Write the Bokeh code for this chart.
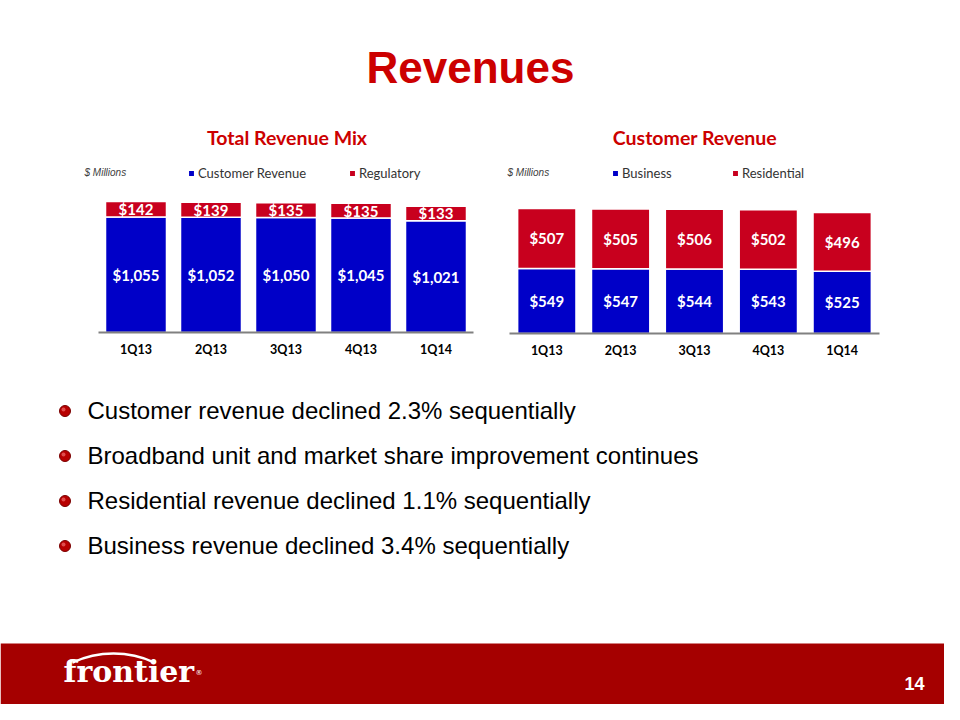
from bokeh.plotting import figure
from bokeh.models import Range1d, FactorRange, Label, Legend, LegendItem, ColumnDataSource
from bokeh.layouts import column, row
from bokeh.embed import file_html
from bokeh.resources import INLINE
from bokeh.core.properties import value

# ---------------- data ----------------
quarters = ["1Q13", "2Q13", "3Q13", "4Q13", "1Q14"]
customer_revenue = [1055, 1052, 1050, 1045, 1021]
regulatory_revenue = [142, 139, 135, 135, 133]
business_revenue = [549, 547, 544, 543, 525]
residential_revenue = [507, 505, 506, 502, 496]

bullet_points = [
    "Customer revenue declined 2.3% sequentially",
    "Broadband unit and market share improvement continues",
    "Residential revenue declined 1.1% sequentially",
    "Business revenue declined 3.4% sequentially",
]
slide_title = "Revenues"
page_number = "14"

# ---------------- style ----------------
BLUE = "#0000C8"
RED = "#C8001E"
TITLE_RED = "#CC0000"
FOOTER_RED = "#A50000"


def bare(p):
    p.grid.visible = False
    p.outline_line_color = None
    p.background_fill_color = "white"
    p.border_fill_color = "white"


# ---------------- header ----------------
hdr = figure(width=944, height=118, x_range=Range1d(0, 944), y_range=Range1d(0, 118),
             x_axis_location=None, y_axis_location=None, min_border=0,
             output_backend="svg", toolbar_location=None)
bare(hdr)
hdr.add_layout(Label(x=470, y=51, text=slide_title, text_align="center",
                     text_baseline="middle", text_font="Liberation Sans",
                     text_font_style="bold", text_font_size="44px", text_color=TITLE_RED))


def make_chart(lower, upper, names, title, title_x, legend_x, label_width,
               frame_w, frame_h, b_left, b_right, b_bottom, ymax, bar_w,
               pad, millions_x):
    src = ColumnDataSource(dict(
        q=quarters,
        lower=lower,
        upper=upper,
        lower_mid=[v / 2 for v in lower],
        upper_mid=[a + b / 2 for a, b in zip(lower, upper)],
        lower_txt=["${:,}".format(v) for v in lower],
        upper_txt=["${:,}".format(v) for v in upper],
    ))
    p = figure(x_range=FactorRange(*quarters, range_padding=pad, range_padding_units="percent"),
               y_range=Range1d(0, ymax),
               frame_width=frame_w, frame_height=frame_h,
               min_border_left=b_left, min_border_right=b_right,
               min_border_top=0, min_border_bottom=b_bottom,
               y_axis_location=None, output_backend="svg", toolbar_location=None)
    bare(p)
    rs = p.vbar_stack(["lower", "upper"], x="q", width=bar_w, source=src,
                      fill_color=[BLUE, RED], line_color="white", line_width=1.5)
    for ycol, tcol in (("lower_mid", "lower_txt"), ("upper_mid", "upper_txt")):
        p.text(x="q", y=ycol, text=tcol, source=src, text_align="center",
               text_baseline="middle", text_font=value("Lato"), text_font_style="bold",
               text_font_size="15px", text_color="white")
    ax = p.xaxis[0]
    ax.bounds = (0, len(quarters))
    ax.axis_line_color = "#808080"
    ax.axis_line_width = 2
    ax.major_tick_line_color = None
    ax.minor_tick_line_color = None
    ax.major_tick_out = 0
    ax.major_tick_in = 0
    ax.major_label_standoff = 9
    ax.major_label_text_font = "Lato"
    ax.major_label_text_font_style = "bold"
    ax.major_label_text_font_size = "12.5px"
    ax.major_label_text_color = "black"

    legend = Legend(items=[LegendItem(label=names[0], renderers=[rs[0]]),
                           LegendItem(label=names[1], renderers=[rs[1]])],
                    orientation="horizontal", location=(legend_x, frame_h - 63),
                    padding=0, margin=0, spacing=0, glyph_width=8, glyph_height=8,
                    label_standoff=3, label_width=label_width,
                    label_text_font="Lato", label_text_font_size="13px",
                    label_text_color="#333333", background_fill_alpha=0,
                    border_line_alpha=0)
    p.add_layout(legend)
    p.add_layout(Label(x=title_x, y=frame_h - 19, x_units="screen", y_units="screen",
                       text=title, text_align="center", text_baseline="middle",
                       text_font="Lato", text_font_style="bold", text_font_size="19.5px",
                       text_color=TITLE_RED))
    p.add_layout(Label(x=millions_x, y=frame_h - 54, x_units="screen", y_units="screen",
                       text="$ Millions", text_align="left", text_baseline="middle",
                       text_font="Liberation Sans", text_font_style="italic",
                       text_font_size="10px", text_color="#404040"))
    return p


# left chart: figure spans x 0..488, frame 83..488, axis 98..473
left = make_chart(customer_revenue, regulatory_revenue, ["Customer Revenue", "Regulatory"],
                  "Total Revenue Mix", 203.5, 104, 150,
                  405, 214, 83, 0, 38, 1955, 0.813, 0.08, 1)
# right chart: figure spans x 488..944, frame 502..886, axis 509..878
right = make_chart(business_revenue, residential_revenue, ["Business", "Residential"],
                   "Customer Revenue", 192.5, 109, 109,
                   384, 215, 14, 58, 37, 1816, 0.79, 0.04, 5)

# ---------------- bottom: bullets + footer ----------------
bot = figure(width=944, height=334, x_range=Range1d(0, 944), y_range=Range1d(0, 334),
             x_axis_location=None, y_axis_location=None, min_border=0,
             output_backend="svg", toolbar_location=None)
bare(bot)
bullet_y = [294, 249, 204, 159]
bot.scatter(x=[64.5] * 4, y=[y - 0.5 for y in bullet_y], size=11, fill_color="#B80000",
            line_color="#7A0000", line_width=1)
bot.scatter(x=[63] * 4, y=[y + 1 for y in bullet_y], size=4, fill_color="#E86060",
            line_color=None, fill_alpha=0.8)
bot.text(x=[87] * 4, y=bullet_y, text=bullet_points, text_baseline="middle",
         text_font=value("Liberation Sans"), text_font_size="24px", text_color="black")

bot.quad(left=[0], right=[944], bottom=[0], top=[61], fill_color=FOOTER_RED, line_color=None)
bot.add_layout(Label(x=63, y=33, text="frontier", text_font="DejaVu Serif",
                     text_font_style="bold", text_font_size="30px", text_color="white",
                     text_baseline="middle"))
# logo swoosh above the word mark
bot.arc(x=[113], y=[-47], radius=98, start_angle=1.138, end_angle=2.004,
        line_color="white", line_width=2.5)
bot.add_layout(Label(x=195, y=32, text="®", text_font="DejaVu Sans",
                     text_font_size="7px", text_color="white", text_baseline="middle"))
bot.add_layout(Label(x=914, y=21, text=page_number, text_align="center",
                     text_baseline="middle", text_font="Liberation Sans Narrow, Liberation Sans",
                     text_font_style="bold", text_font_size="18px", text_color="white"))

layout = column(hdr, row(left, right), bot)

open("out.html", "w").write(file_html(layout, INLINE))
